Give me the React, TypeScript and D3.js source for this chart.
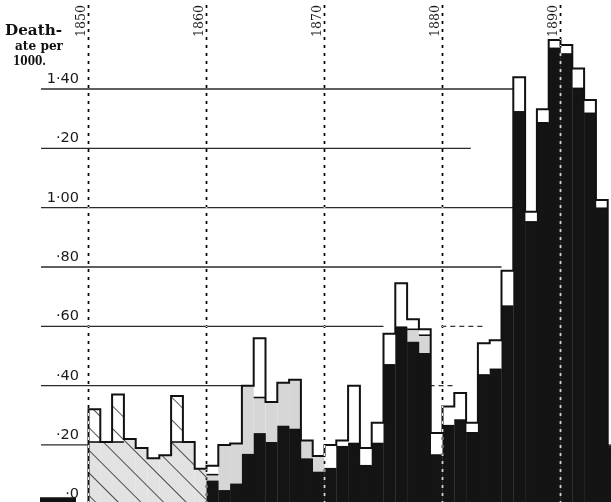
import React from "react";
import * as d3 from "d3";

// ---- data ----
const years = [
  1850, 1851, 1852, 1853, 1854, 1855, 1856, 1857, 1858, 1859,
  1860, 1861, 1862, 1863, 1864, 1865, 1866, 1867, 1868, 1869,
  1870, 1871, 1872, 1873, 1874, 1875, 1876, 1877, 1878, 1879,
  1880, 1881, 1882, 1883, 1884, 1885, 1886, 1887, 1888, 1889,
  1890, 1891, 1892, 1893, 1894,
];
// total death-rate per 1000 (outline)
const totalRate = [
  0.32, 0.21, 0.37, 0.22, 0.19, 0.155, 0.165, 0.365, 0.21, 0.12,
  0.13, 0.2, 0.205, 0.4, 0.56, 0.345, 0.41, 0.42, 0.215, 0.163,
  0.2, 0.215, 0.4, 0.19, 0.275, 0.575, 0.745, 0.624, 0.59, 0.24,
  0.33, 0.375, 0.275, 0.543, 0.553, 0.787, 1.44, 0.986, 1.332, 1.565,
  1.548, 1.469, 1.363, 1.026, 0.195,
];
// stippled (light grey) portion top
const stippledRate = [
  0.21, 0.21, 0.21, 0.22, 0.19, 0.155, 0.165, 0.21, 0.21, 0.12,
  0.1, 0.2, 0.205, 0.4, 0.36, 0.345, 0.41, 0.42, 0.215, 0.163,
  0.12, 0.194, 0.205, 0.13, 0.205, 0.47, 0.597, 0.59, 0.57, 0.166,
  0.265, 0.284, 0.241, 0.436, 0.455, 0.668, 1.323, 0.952, 1.286, 1.537,
  1.518, 1.402, 1.318, 0.998, 0.19,
];
// black portion top
const blackRate = [
  0, 0, 0, 0, 0, 0, 0, 0, 0, 0,
  0.08, 0.048, 0.07, 0.17, 0.24, 0.21, 0.265, 0.255, 0.155, 0.11,
  0.12, 0.194, 0.205, 0.13, 0.205, 0.47, 0.597, 0.548, 0.51, 0.166,
  0.265, 0.284, 0.241, 0.436, 0.455, 0.668, 1.323, 0.952, 1.286, 1.537,
  1.518, 1.402, 1.318, 0.998, 0.19,
];
const hatchedYears = [1850, 1851, 1852, 1853, 1854, 1855, 1856, 1857, 1858, 1859];

const yTickValues = [0, 0.2, 0.4, 0.6, 0.8, 1.0, 1.2, 1.4];
const yTickLabels = ["·0", "·20", "·40", "·60", "·80", "1·00", "·20", "1·40"];
const decadeYears = [1850, 1860, 1870, 1880, 1890];
const titleLines = ["Death-", "ate per", "1000."];

// horizontal rule segments: value, end year (start at the axis), plus dashed pieces
const ruleEnds = [
  { value: 1.4, to: 1886 },
  { value: 1.2, to: 1882.4 },
  { value: 1.0, to: 1886 },
  { value: 0.8, to: 1885 },
  { value: 0.6, to: 1875 },
  { value: 0.4, to: 1863 },
  { value: 0.2, to: 1850 },
];
const dashedRules = [
  { value: 0.6, from: 1879.9, to: 1883.4 },
  { value: 0.4, from: 1878.9, to: 1881.1 },
  { value: 0.2, from: 1893.8, to: 1895 },
];

const W = 611;
const H = 502;
const AXIS_LEFT = 41;

export default function App() {
  const x = d3.scaleLinear().domain([1850, 1894]).range([88.5, 607.7]);
  const y = d3.scaleLinear().domain([0, 1.4]).range([504.3, 89]);

  const stepPath = (vals: number[], yrs: number[], close: boolean) => {
    let p = `M${x(yrs[0])},${y(0)}`;
    yrs.forEach((yr, i) => {
      p += `L${x(yr)},${y(vals[i])}L${x(yr + 1)},${y(vals[i])}`;
    });
    p += `L${x(yrs[yrs.length - 1] + 1)},${y(0)}`;
    if (close) p += "Z";
    return p;
  };

  const nH = hatchedYears.length;
  const hatchPath = stepPath(totalRate.slice(0, nH), hatchedYears, true);
  const outlinePath = stepPath(totalRate, years, false);

  return (
    <svg
      width={W}
      height={H}
      style={{ position: "absolute", left: 0, top: 0, background: "#fff" }}
    >
      <defs>
        <pattern
          id="hatch"
          patternUnits="userSpaceOnUse"
          width={16}
          height={16}
          patternTransform="rotate(-45)"
        >
          <line x1={0} y1={0} x2={0} y2={16} stroke="#1a1a1a" strokeWidth={1.5} />
        </pattern>
      </defs>
      <rect x={0} y={0} width={W} height={H} fill="#fff" />

      {/* horizontal rules */}
      {ruleEnds.map((r, i) => (
        <line
          key={"r" + i}
          x1={AXIS_LEFT}
          x2={x(r.to)}
          y1={y(r.value)}
          y2={y(r.value)}
          stroke="#2a2a2a"
          strokeWidth={1.3}
        />
      ))}
      {dashedRules.map((r, i) => (
        <line
          key={"d" + i}
          x1={x(r.from)}
          x2={x(r.to)}
          y1={y(r.value)}
          y2={y(r.value)}
          stroke="#333"
          strokeWidth={1.2}
          strokeDasharray={r.value === 0.2 ? undefined : "5 4"}
        />
      ))}
      {/* zero line stub */}
      <line
        x1={AXIS_LEFT - 1}
        x2={76}
        y1={y(0) - 4.5}
        y2={y(0) - 4.5}
        stroke="#111"
        strokeWidth={5}
      />

      {/* bars: white body */}
      {years.map((yr, i) => (
        <rect
          key={"w" + yr}
          x={x(yr)}
          width={x(yr + 1) - x(yr)}
          y={y(totalRate[i])}
          height={y(0) - y(totalRate[i])}
          fill="#fff"
        />
      ))}
      {/* stippled grey */}
      {years.map((yr, i) =>
        stippledRate[i] > blackRate[i] ? (
          <rect
            key={"g" + yr}
            x={x(yr)}
            width={x(yr + 1) - x(yr)}
            y={y(stippledRate[i])}
            height={y(blackRate[i]) - y(stippledRate[i])}
            fill={i < nH ? "#e2e2e2" : "#d6d6d6"}
          />
        ) : null
      )}
      {/* black */}
      {years.map((yr, i) =>
        blackRate[i] > 0 ? (
          <rect
            key={"b" + yr}
            x={x(yr)}
            width={x(yr + 1) - x(yr) + 0.3}
            y={y(blackRate[i])}
            height={y(0) - y(blackRate[i])}
            fill="#141414"
          />
        ) : null
      )}
      {/* horizontal edges between white box and fill */}
      {years.map((yr, i) =>
        totalRate[i] > stippledRate[i] ? (
          <line
            key={"e" + yr}
            x1={x(yr)}
            x2={x(yr + 1)}
            y1={y(stippledRate[i])}
            y2={y(stippledRate[i])}
            stroke="#111"
            strokeWidth={1.6}
          />
        ) : null
      )}
      {/* hatching for the 1850s */}
      <path d={hatchPath} fill="url(#hatch)" />
      {/* outline */}
      <path
        d={outlinePath}
        fill="none"
        stroke="#111"
        strokeWidth={2}
        strokeLinejoin="miter"
      />

      {/* decade dashed verticals */}
      {decadeYears.map((yr) => (
        <line
          key={"v" + yr}
          x1={x(yr)}
          x2={x(yr)}
          y1={5}
          y2={H}
          stroke="#fff"
          strokeWidth={1.7}
          strokeDasharray="3 5"
          style={{ mixBlendMode: "difference" }}
        />
      ))}
      {decadeYears.map((yr) => (
        <text
          key={"t" + yr}
          transform={`translate(${x(yr) - 3.5},37) rotate(-90)`}
          fontFamily="DejaVu Serif"
          fontSize={13}
          textLength={32}
          lengthAdjust="spacingAndGlyphs"
          fill="#1a1a1a"
        >
          {yr}
        </text>
      ))}

      {/* y tick labels */}
      {yTickValues.map((v, i) => (
        <text
          key={"y" + i}
          x={79}
          y={y(v) - 6}
          textAnchor="end"
          fontFamily="DejaVu Sans"
          fontSize={14.5}
          fill="#1a1a1a"
        >
          {yTickLabels[i]}
        </text>
      ))}

      {/* title */}
      <text
        x={5}
        y={35}
        fontFamily="DejaVu Serif"
        fontWeight="bold"
        fontSize={14.5}
        textLength={57}
        lengthAdjust="spacingAndGlyphs"
        fill="#111"
      >
        {titleLines[0]}
      </text>
      <text
        x={15}
        y={50}
        fontFamily="DejaVu Serif"
        fontWeight="bold"
        fontSize={13.5}
        textLength={48}
        lengthAdjust="spacingAndGlyphs"
        fill="#111"
      >
        {titleLines[1]}
      </text>
      <text
        x={13}
        y={65}
        fontFamily="DejaVu Serif"
        fontWeight="bold"
        fontSize={13.5}
        textLength={33}
        lengthAdjust="spacingAndGlyphs"
        fill="#111"
      >
        {titleLines[2]}
      </text>
    </svg>
  );
}
